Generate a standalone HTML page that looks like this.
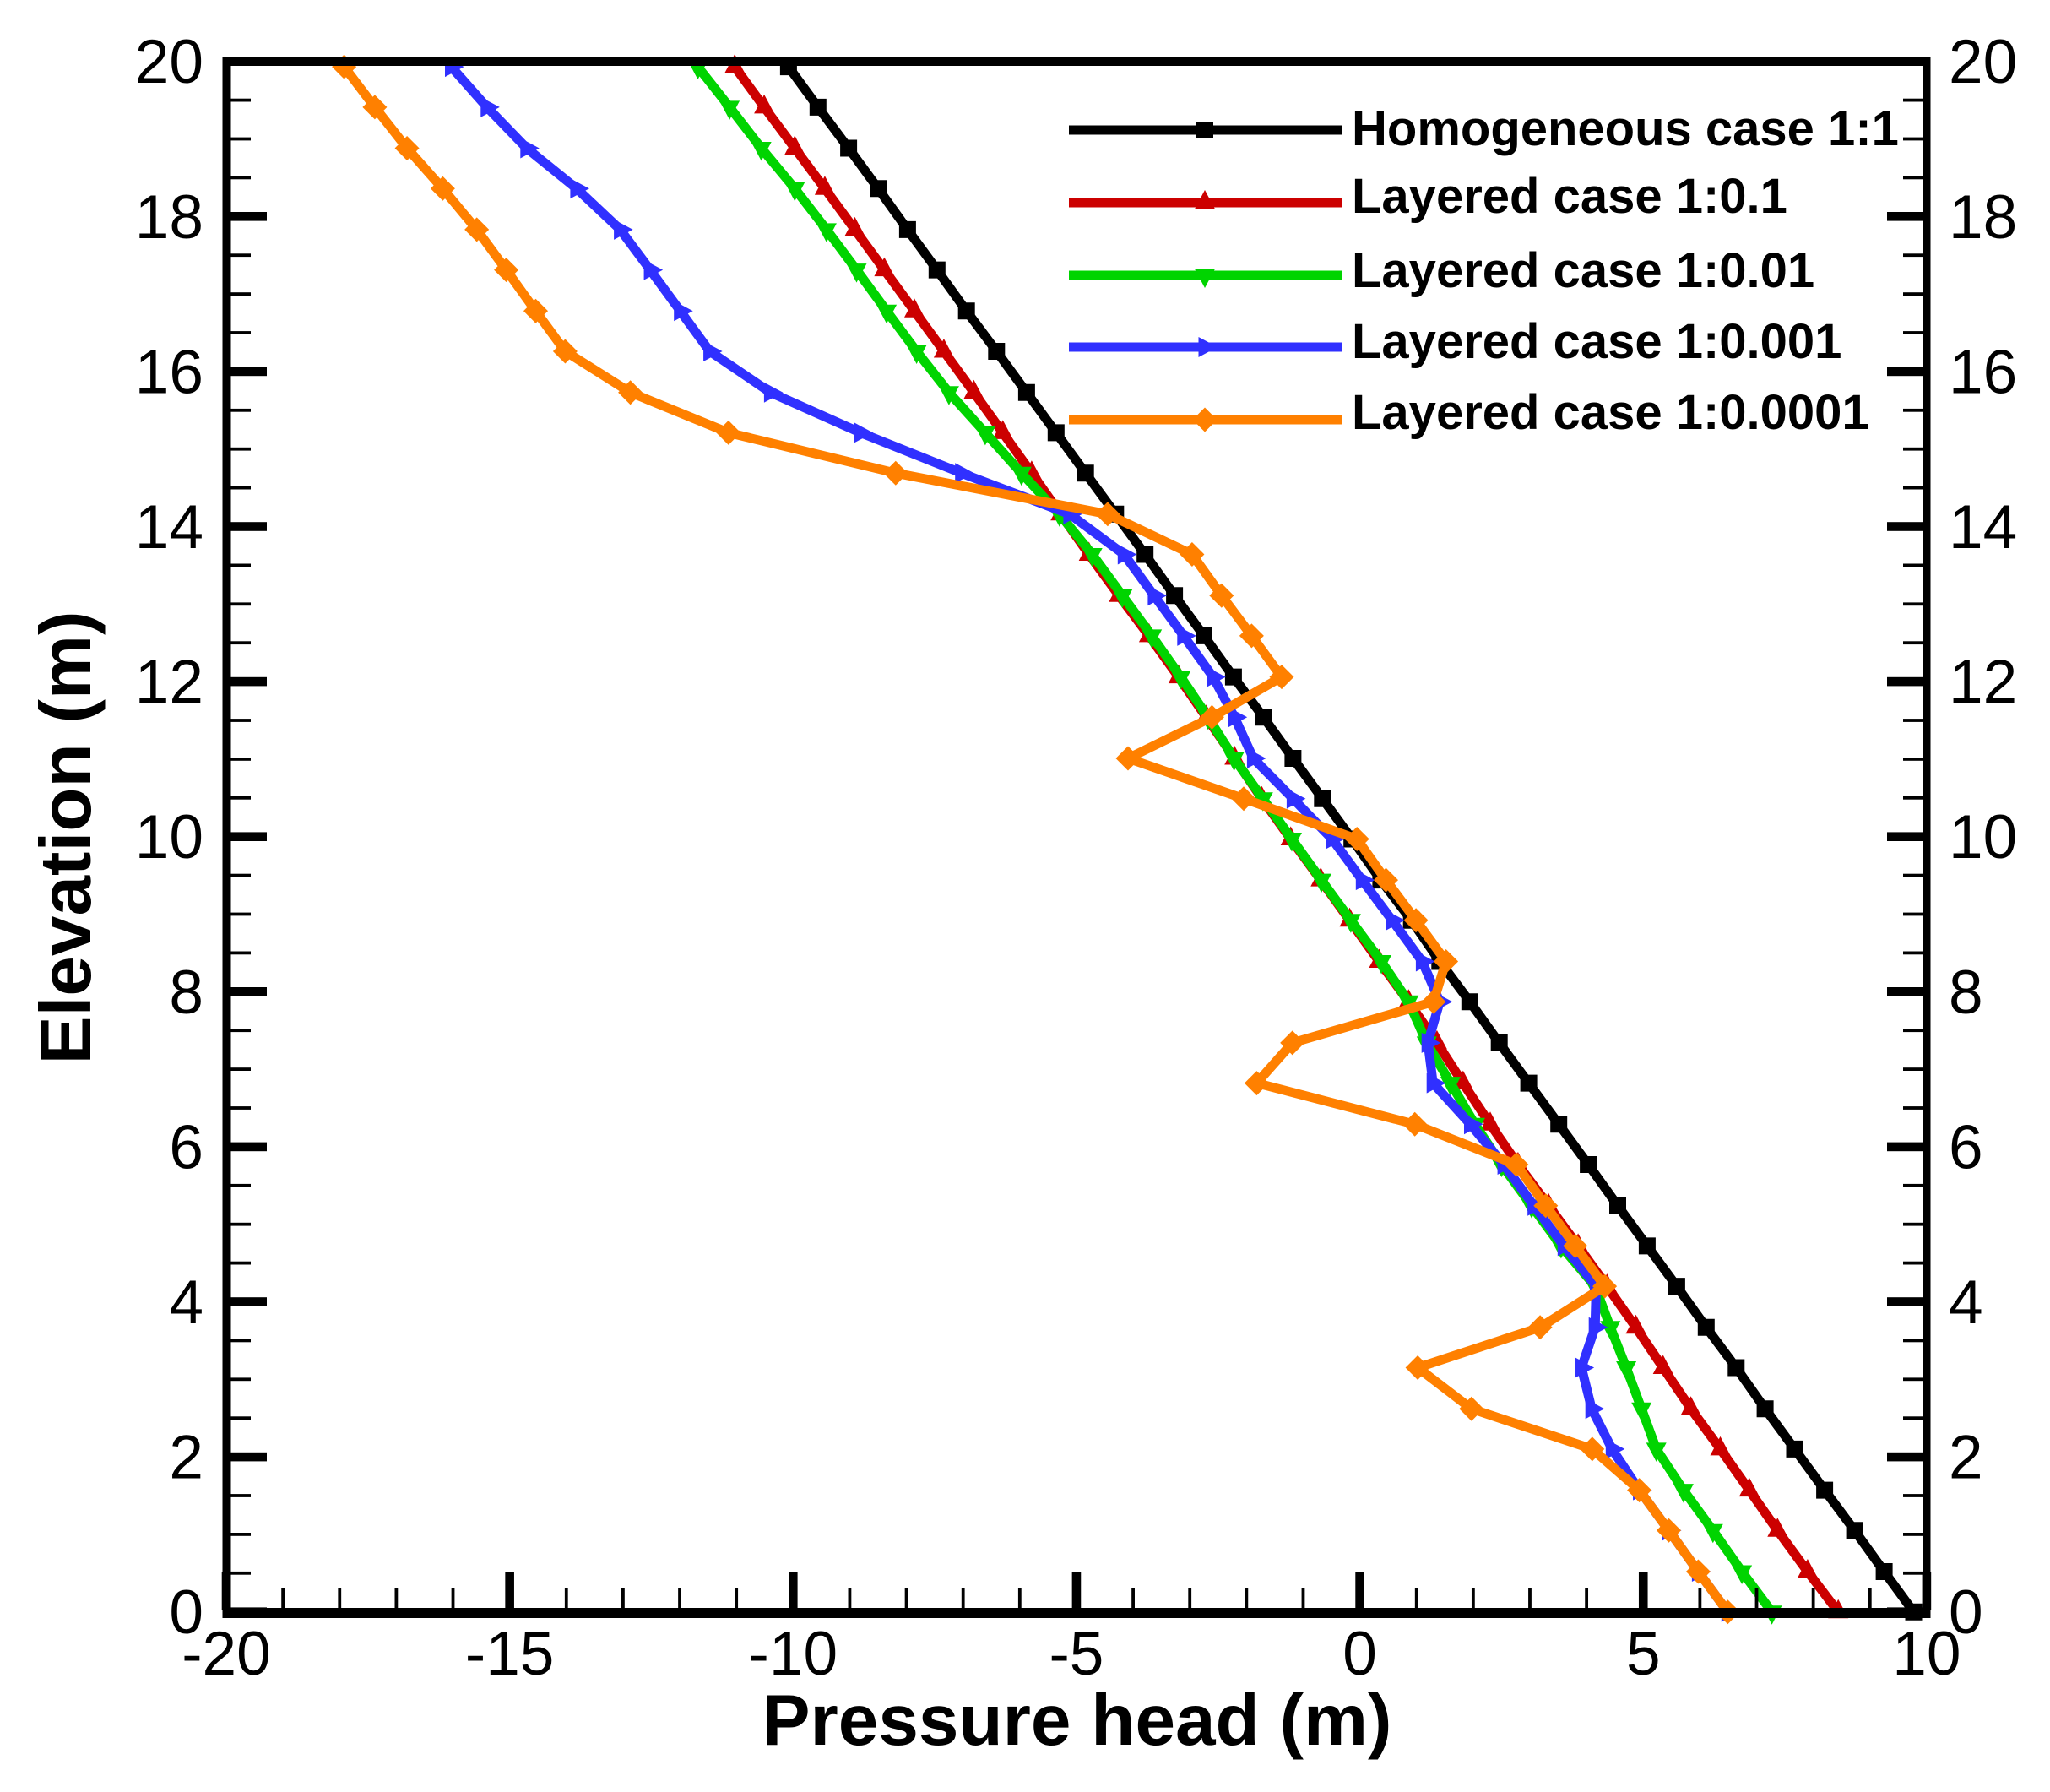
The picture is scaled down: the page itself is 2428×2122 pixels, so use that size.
<!DOCTYPE html>
<html>
<head>
<meta charset="utf-8">
<title>Pressure head vs elevation</title>
<style>
html,body{margin:0;padding:0;background:#fff;}
svg{display:block;}
text{font-family:"Liberation Sans",Arial,sans-serif;fill:#000;}
.tick-label{font-size:73px;}
.axis-title{font-size:85.5px;font-weight:bold;}
.legend-label{font-size:58px;font-weight:bold;}
</style>
</head>
<body>
<svg id="chart" xmlns="http://www.w3.org/2000/svg" width="2428" height="2122" viewBox="0 0 2428 2122">
  <rect x="0" y="0" width="2428" height="2122" fill="#ffffff"/>
  <g id="series-layer"></g>
  <g id="axes-layer"></g>
  <g id="tick-labels"></g>
  <text class="axis-title" x="1275.5" y="2066" text-anchor="middle">Pressure head (m)</text>
  <text class="axis-title" transform="translate(107 992) rotate(-90)" text-anchor="middle">Elevation (m)</text>
  <g id="legend">
    <text class="legend-label" x="1601" y="172">Homogeneous case 1:1</text>
    <text class="legend-label" x="1601" y="252">Layered case 1:0.1</text>
    <text class="legend-label" x="1601" y="340">Layered case 1:0.01</text>
    <text class="legend-label" x="1601" y="424">Layered case 1:0.001</text>
    <text class="legend-label" x="1601" y="508">Layered case 1:0.0001</text>
  </g>
</svg>
<script>
var elevations = [19.93,19.41,18.88,18.36,17.83,17.31,16.78,16.26,15.73,15.21,14.69,14.16,13.64,13.11,12.59,12.06,11.54,11.01,10.49,9.97,9.44,8.92,8.39,7.87,7.34,6.82,6.29,5.77,5.24,4.72,4.20,3.67,3.15,2.62,2.10,1.57,1.05,0.52,0];
var homogeneousHead = [-10.08,-9.56,-9.02,-8.50,-7.98,-7.46,-6.94,-6.41,-5.88,-5.36,-4.84,-4.31,-3.79,-3.27,-2.75,-2.23,-1.70,-1.18,-0.66,-0.14,0.37,0.91,1.41,1.94,2.46,2.98,3.51,4.03,4.55,5.07,5.59,6.11,6.64,7.15,7.67,8.20,8.73,9.25,9.77];
var ratio01Head = [-11.03,-10.51,-9.97,-9.44,-8.91,-8.39,-7.86,-7.34,-6.81,-6.30,-5.79,-5.28,-4.78,-4.25,-3.72,-3.20,-2.71,-2.21,-1.73,-1.22,-0.69,-0.18,0.34,0.86,1.36,1.82,2.30,2.79,3.33,3.85,4.36,4.87,5.35,5.84,6.36,6.87,7.37,7.90,8.44];
var ratio001Head = [-11.68,-11.12,-10.56,-9.97,-9.41,-8.88,-8.35,-7.82,-7.25,-6.61,-5.97,-5.30,-4.72,-4.19,-3.67,-3.16,-2.68,-2.22,-1.71,-1.20,-0.68,-0.16,0.38,0.86,1.18,1.60,2.03,2.50,3.03,3.55,4.15,4.42,4.70,4.97,5.23,5.71,6.23,6.74,7.27];
var ratio0001Head = [-16.03,-15.40,-14.70,-13.82,-13.05,-12.52,-11.99,-11.47,-10.40,-8.81,-7.03,-5.12,-4.16,-3.63,-3.11,-2.59,-2.21,-1.88,-1.18,-0.49,0.04,0.57,1.10,1.41,1.20,1.29,1.95,2.54,3.07,3.60,4.17,4.15,3.91,4.09,4.45,4.93,5.45,5.97,6.49];
var ratio00001Head = [-17.92,-17.38,-16.81,-16.18,-15.58,-15.06,-14.54,-14.02,-12.87,-11.14,-8.19,-4.45,-2.96,-2.44,-1.91,-1.38,-2.61,-4.09,-2.05,-0.05,0.46,0.99,1.52,1.30,-1.19,-1.82,0.97,2.76,3.28,3.80,4.32,3.18,1.02,1.97,4.10,4.93,5.45,5.97,6.49];

var xMajorTicks = [-20,-15,-10,-5,0,5,10];
var xMinorTicks = [-19,-18,-17,-16,-14,-13,-12,-11,-9,-8,-7,-6,-4,-3,-2,-1,1,2,3,4,6,7,8,9];
var yMajorTicks = [0,2,4,6,8,10,12,14,16,18,20];
var yMinorTicks = [0.5,1,1.5,2.5,3,3.5,4.5,5,5.5,6.5,7,7.5,8.5,9,9.5,10.5,11,11.5,12.5,13,13.5,14.5,15,15.5,16.5,17,17.5,18.5,19,19.5];

var SVG_NS = 'http://www.w3.org/2000/svg';
function xScale(v){ return 268 + (v + 20) * 67.13; }
function yScale(v){ return 1908.7 - v * 91.8; }

function make(tag, parent){
  var el = document.createElementNS(SVG_NS, tag);
  parent.appendChild(el);
  return el;
}
function markerPoints(shape, cx, cy){
  if (shape === 'up') return [[cx,cy-15],[cx+12,cy+7.5],[cx-12,cy+7.5]];
  if (shape === 'down') return [[cx,cy+15],[cx+12,cy-7.5],[cx-12,cy-7.5]];
  if (shape === 'right') return [[cx+15,cy],[cx-7.5,cy-12],[cx-7.5,cy+12]];
  if (shape === 'diamond') return [[cx,cy-14.5],[cx+14.5,cy],[cx,cy+14.5],[cx-14.5,cy]];
  return [[cx-10,cy-10],[cx+10,cy-10],[cx+10,cy+10],[cx-10,cy+10]];
}
function drawMarker(parent, shape, color, cx, cy, name){
  var m = make('polygon', parent);
  m.setAttribute('points', markerPoints(shape, cx, cy).map(function(p){ return p[0].toFixed(1)+','+p[1].toFixed(1); }).join(' '));
  m.setAttribute('fill', color);
  
  
}
function drawSeries(name, values, shape, color){
  var layer = document.getElementById('series-layer');
  var g = make('g', layer);
  
  
  var line = make('polyline', g);
  line.setAttribute('points', values.map(function(v, i){ return xScale(v).toFixed(1)+','+yScale(elevations[i]).toFixed(1); }).join(' '));
  line.setAttribute('fill', 'none');
  line.setAttribute('stroke', color);
  line.setAttribute('stroke-width', '11');
  line.setAttribute('stroke-linejoin', 'round');
  
  
  values.forEach(function(v, i){
    drawMarker(g, shape, color, xScale(v), yScale(elevations[i]), 'point-' + name);
  });
}
function drawRect(parent, x, y, w, h, name){
  var r = make('rect', parent);
  r.setAttribute('x', x);
  r.setAttribute('y', y);
  r.setAttribute('width', w);
  r.setAttribute('height', h);
  r.setAttribute('fill', '#000');
  
  
}
function drawTickLabel(str, x, y, anchor, name){
  var t = make('text', document.getElementById('tick-labels'));
  t.setAttribute('class', 'tick-label');
  t.setAttribute('x', x);
  t.setAttribute('y', y);
  t.setAttribute('text-anchor', anchor);
  t.textContent = str;
  
  
}

drawSeries('homogeneous', homogeneousHead, 'square', '#000000');
drawSeries('ratio-0-1', ratio01Head, 'up', '#cc0000');
drawSeries('ratio-0-01', ratio001Head, 'down', '#00d400');
drawSeries('ratio-0-001', ratio0001Head, 'right', '#3030ff');
drawSeries('ratio-0-0001', ratio00001Head, 'diamond', '#ff8000');

var axes = document.getElementById('axes-layer');
xMinorTicks.forEach(function(v){
  drawRect(axes, xScale(v) - 1.9, 1881, 3.8, 26, 'x-minor-tick');
});
xMajorTicks.forEach(function(v){
  drawRect(axes, xScale(v) - 5.3, 1862, 10.6, 45, 'x-major-tick');
  drawTickLabel(String(v), xScale(v), 1983, 'middle', 'x-tick-label');
});
yMinorTicks.forEach(function(v){
  drawRect(axes, 270, yScale(v) - 1.9, 27, 3.8, 'y-left-minor-tick');
  drawRect(axes, 2254, yScale(v) - 1.9, 27, 3.8, 'y-right-minor-tick');
});
yMajorTicks.forEach(function(v){
  drawRect(axes, 270, yScale(v) - 5.3, 46, 10.6, 'y-left-major-tick');
  drawRect(axes, 2235, yScale(v) - 5.3, 46, 10.6, 'y-right-major-tick');
  drawTickLabel(String(v), 241, yScale(v) + 25.5, 'end', 'y-left-tick-label');
  drawTickLabel(String(v), 2308, yScale(v) + 25.5, 'start', 'y-right-tick-label');
});
drawRect(axes, 263.5, 68, 10, 1848, 'left-spine');
drawRect(axes, 2277.5, 68, 9, 1848, 'right-spine');
drawRect(axes, 263.5, 68, 2023, 10, 'top-spine');
drawRect(axes, 263.5, 1904, 2023, 12, 'bottom-spine');

var legendGroup = document.getElementById('legend');
var legendSeriesNames = ['homogeneous','ratio-0-1','ratio-0-01','ratio-0-001','ratio-0-0001'];
var legendShapes = ['square','up','down','right','diamond'];
var legendColors = ['#000000','#cc0000','#00d400','#3030ff','#ff8000'];
var legendRows = [154,240,326,411,497];
legendSeriesNames.forEach(function(n, i){
  var l = make('line', legendGroup);
  l.setAttribute('x1', 1266);
  l.setAttribute('x2', 1589);
  l.setAttribute('y1', legendRows[i]);
  l.setAttribute('y2', legendRows[i]);
  l.setAttribute('stroke', legendColors[i]);
  l.setAttribute('stroke-width', '11');
  
  
  drawMarker(legendGroup, legendShapes[i], legendColors[i], 1427, legendRows[i], 'legend-marker-' + n);
});
</script>
</body>
</html>
